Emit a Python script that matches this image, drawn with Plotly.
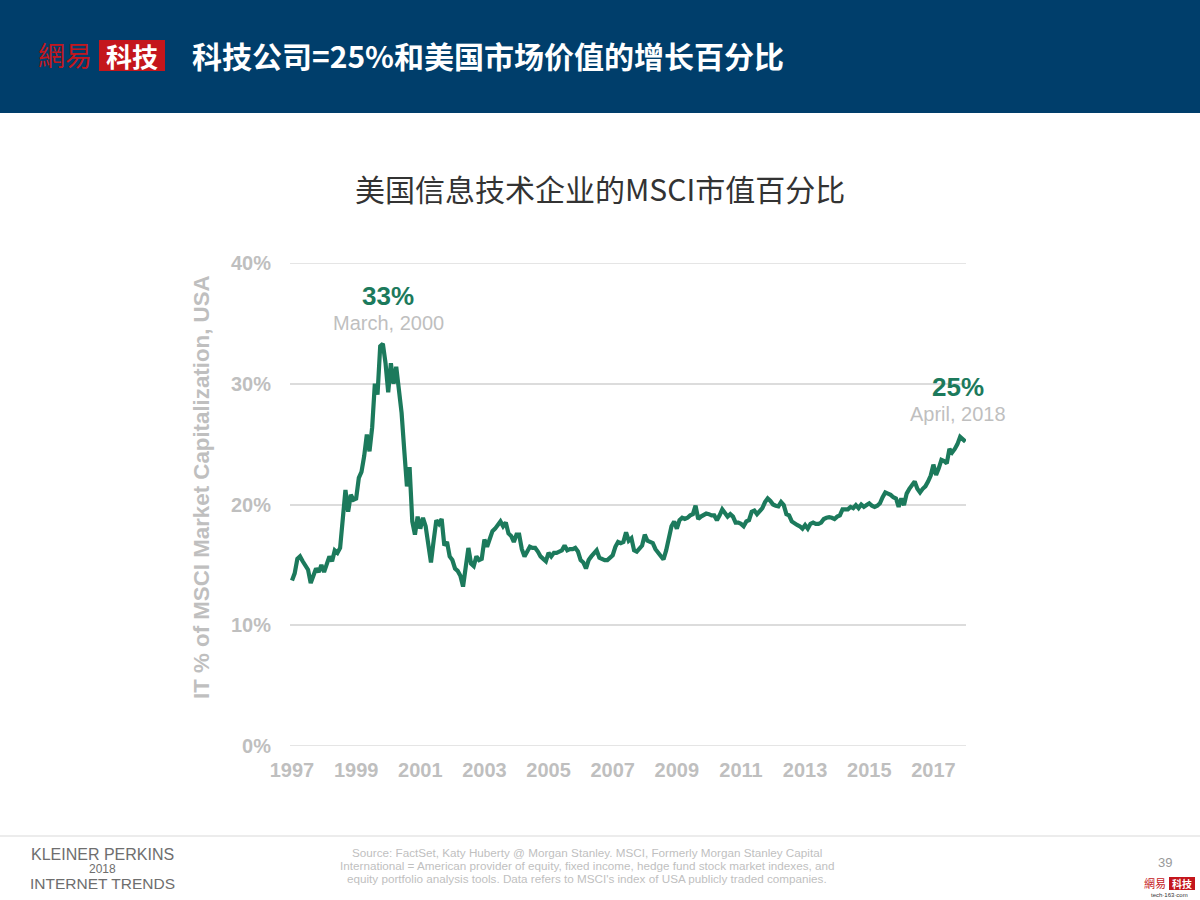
import plotly.graph_objects as go
import pandas as pd

# ---------------- data ----------------
# monthly IT share of MSCI USA market cap (%), April 1997 .. April 2018
it_share = [
    13.7, 14.3, 15.5, 15.7, 15.3, 14.9, 14.6, 13.5, 14.2, 14.7, 14.4, 15.0,   # Apr97-Mar98
    14.4, 15.1, 15.7, 15.3, 16.2, 16.0, 16.4, 18.8, 21.2, 19.4, 20.8, 20.4,   # Apr98-Mar99
    20.5, 22.2, 22.7, 24.0, 25.8, 24.4, 26.4, 30.0, 29.1, 33.1, 33.3, 31.7,   # Apr99-Mar00
    29.3, 31.7, 30.0, 31.4, 29.5, 27.6, 24.5, 21.5, 23.1, 18.6, 17.5, 19.0,   # Apr00-Mar01
    18.0, 18.9, 18.2, 16.8, 15.2, 17.0, 18.7, 18.4, 18.8, 16.6, 16.9, 15.7,   # Apr01-Mar02
    15.4, 14.7, 14.5, 14.1, 13.2, 14.8, 16.4, 15.1, 14.9, 15.7, 15.4, 15.5,   # Apr02-Mar03
    17.1, 16.5, 17.1, 17.8, 18.0, 18.3, 18.6, 18.2, 18.5, 17.6, 17.4, 16.9,   # Apr03-Mar04
    17.5, 17.5, 16.3, 15.7, 16.1, 16.5, 16.4, 16.4, 16.1, 15.7, 15.5, 15.3,   # Apr04-Mar05
    16.0, 15.7, 16.0, 16.0, 16.1, 16.2, 16.6, 16.2, 16.3, 16.3, 16.4, 16.1,   # Apr05-Mar06
    15.4, 15.2, 14.7, 15.4, 15.7, 15.9, 16.2, 15.6, 15.5, 15.4, 15.4, 15.6,   # Apr06-Mar07
    15.8, 16.5, 16.9, 16.8, 16.9, 17.7, 17.0, 17.2, 16.2, 16.1, 16.4, 16.6,   # Apr07-Mar08
    17.5, 17.0, 16.9, 16.8, 16.3, 16.0, 15.7, 15.45, 16.2, 17.4, 18.2, 18.6,  # Apr08-Mar09
    18.0, 18.7, 18.9, 18.8, 18.9, 19.1, 19.2, 19.9, 18.8, 19.0, 19.1, 19.25,  # Apr09-Mar10
    19.2, 19.1, 19.1, 18.7, 19.1, 19.6, 19.3, 19.0, 19.2, 19.0, 18.5, 18.5,   # Apr10-Mar11
    18.4, 18.2, 18.6, 18.7, 19.4, 19.5, 19.2, 19.4, 19.7, 20.2, 20.5, 20.3,   # Apr11-Mar12
    20.0, 19.9, 19.85, 20.2, 19.95, 19.2, 19.1, 18.6, 18.4, 18.3, 18.2, 18.0, # Apr12-Mar13
    18.3, 18.0, 18.4, 18.5, 18.4, 18.4, 18.5, 18.8, 18.9, 18.95, 18.9, 18.8,  # Apr13-Mar14
    19.0, 19.1, 19.6, 19.6, 19.6, 19.8, 19.7, 19.95, 19.7, 20.0, 19.8, 19.95, # Apr14-Mar15
    20.1, 19.9, 19.8, 19.9, 20.1, 20.6, 21.0, 20.9, 20.8, 20.6, 20.5, 19.8,   # Apr15-Mar16
    20.5, 19.95, 20.9, 21.3, 21.6, 21.9, 21.3, 21.0, 21.3, 21.5, 21.9, 22.4,  # Apr16-Mar17
    23.3, 22.45, 23.0, 23.7, 23.6, 23.4, 24.6, 24.3, 24.6, 25.0, 25.6, 25.4,  # Apr17-Mar18
    25.2,                                                                     # Apr18
]
months = list(pd.date_range("1997-04-01", periods=len(it_share), freq="MS").strftime("%Y-%m"))

tick_months = ["1997-04", "1999-04", "2001-04", "2003-04", "2005-04", "2007-04",
               "2009-04", "2011-04", "2013-04", "2015-04", "2017-04"]
tick_years = ["1997", "1999", "2001", "2003", "2005", "2007",
              "2009", "2011", "2013", "2015", "2017"]
y_ticks = [0, 10, 20, 30, 40]
y_labels = ["0%", "10%", "20%", "30%", "40%"]

header_title = "科技公司=25%和美国市场价值的增长百分比"
chart_title = "美国信息技术企业的MSCI市值百分比"
y_title = "IT % of MSCI Market Capitalization, USA"
peak_value, peak_label = "33%", "March, 2000"
last_value, last_label = "25%", "April, 2018"
source_lines = [
    "Source: FactSet, Katy Huberty @ Morgan Stanley. MSCI, Formerly Morgan Stanley Capital",
    "International = American provider of equity, fixed income, hedge fund stock market indexes, and",
    "equity portfolio analysis tools. Data refers to MSCI's index of USA publicly traded companies.",
]

# ---------------- layout helpers ----------------
W, H = 1200, 900
L, R, T, B = 290, 234, 263, 154
PW, PH = W - L - R, H - T - B


def px(x):
    return (x - L) / PW


def py(y):
    return (H - B - y) / PH


GREEN = "#1C7A5C"
GRAY = "#BFBFBF"
GRID = "#DCDCDC"
NAVY = "#003E6B"
RED = "#C4161C"
LAT = "Liberation Sans, Arial, sans-serif"
CJK = "Noto Sans CJK SC, sans-serif"

fig = go.Figure()
fig.add_trace(go.Scatter(
    x=months, y=it_share, mode="lines",
    line=dict(color=GREEN, width=4.2),
    hoverinfo="skip", showlegend=False,
))

shapes = [
    dict(type="rect", xref="paper", yref="paper", x0=px(0), x1=px(W), y0=py(113), y1=py(0),
         fillcolor=NAVY, line=dict(width=0), layer="below"),
    dict(type="rect", xref="paper", yref="paper", x0=px(99), x1=px(165), y0=py(71), y1=py(40),
         fillcolor=RED, line=dict(width=0)),
    dict(type="line", xref="paper", yref="paper", x0=px(0), x1=px(W), y0=py(836), y1=py(836),
         line=dict(color="#E6E6E6", width=1.5)),
    dict(type="rect", xref="paper", yref="paper", x0=px(1169), x1=px(1195), y0=py(890), y1=py(877),
         fillcolor=RED, line=dict(width=0)),
]
# edge gridlines (0% and 40%) that plotly omits at the plot border
for v in (y_ticks[0], y_ticks[-1]):
    shapes.append(dict(type="line", xref="paper", yref="y", x0=0, x1=1, y0=v, y1=v,
                       line=dict(color=GRID, width=1.5), layer="below"))

ann = []


def text(x, y, s, size, color, family=LAT, bold=False, xa="center", ya="middle", angle=0):
    ann.append(dict(xref="paper", yref="paper", x=px(x), y=py(y), text=f"<b>{s}</b>" if bold else s,
                    showarrow=False, xanchor=xa, yanchor=ya, textangle=angle,
                    font=dict(size=size, color=color, family=family)))


# header
text(65, 55, "網易", 27, RED, family="Noto Sans CJK TC, sans-serif")
text(132, 56, "科技", 26, "white", family=CJK, bold=True)
text(190, 55, header_title, 30, "white", family=CJK, bold=True, xa="left")
# chart title
text(600, 188, chart_title, 30, "#333333", family=CJK)
# y title
text(201, 487, y_title, 22.3, GRAY, bold=True, angle=-90)
# annotations
text(388, 296, peak_value, 26, GREEN, bold=True)
text(388, 323, peak_label, 20, GRAY)
text(958, 387, last_value, 26, GREEN, bold=True)
text(958, 414, last_label, 20, GRAY)
# footer
text(103, 854, "KLEINER PERKINS", 16, "#6E6E6E")
text(103, 869, "2018", 12, "#6E6E6E")
text(103, 883, "INTERNET TRENDS", 15.5, "#6E6E6E")
for i, s in enumerate(source_lines):
    text(587, 852 + 13 * i, s, 11.7, GRAY)
text(1165, 862, "39", 13, "#999999")
text(1155, 883, "網易", 11, RED, family="Noto Sans CJK TC, sans-serif")
text(1182, 883, "科技", 10, "white", family=CJK, bold=True)
text(1169, 895, "tech·163·com", 6, "#333333")

fig.update_layout(
    width=W, height=H, margin=dict(l=L, r=R, t=T, b=B, pad=0),
    paper_bgcolor="white", plot_bgcolor="white",
    shapes=shapes, annotations=ann, showlegend=False,
    xaxis=dict(type="category", range=[-0.75, len(it_share) - 0.8],
               tickmode="array", tickvals=tick_months, ticktext=tick_years,
               showgrid=False, zeroline=False, showline=False,
               ticks="outside", ticklen=6, tickcolor="rgba(0,0,0,0)",
               tickfont=dict(size=20, color=GRAY, family=LAT, weight="bold"), tickangle=0),
    yaxis=dict(range=[0, 40], tickmode="array", tickvals=y_ticks, ticktext=y_labels,
               showgrid=True, gridcolor=GRID, gridwidth=1.5,
               zeroline=False, showline=False,
               ticks="outside", ticklen=14, tickcolor="rgba(0,0,0,0)",
               tickfont=dict(size=20, color=GRAY, family=LAT, weight="bold")),
)

fig.write_html("out.html", config={"displayModeBar": False},
               post_script="document.body.style.margin='0';")
